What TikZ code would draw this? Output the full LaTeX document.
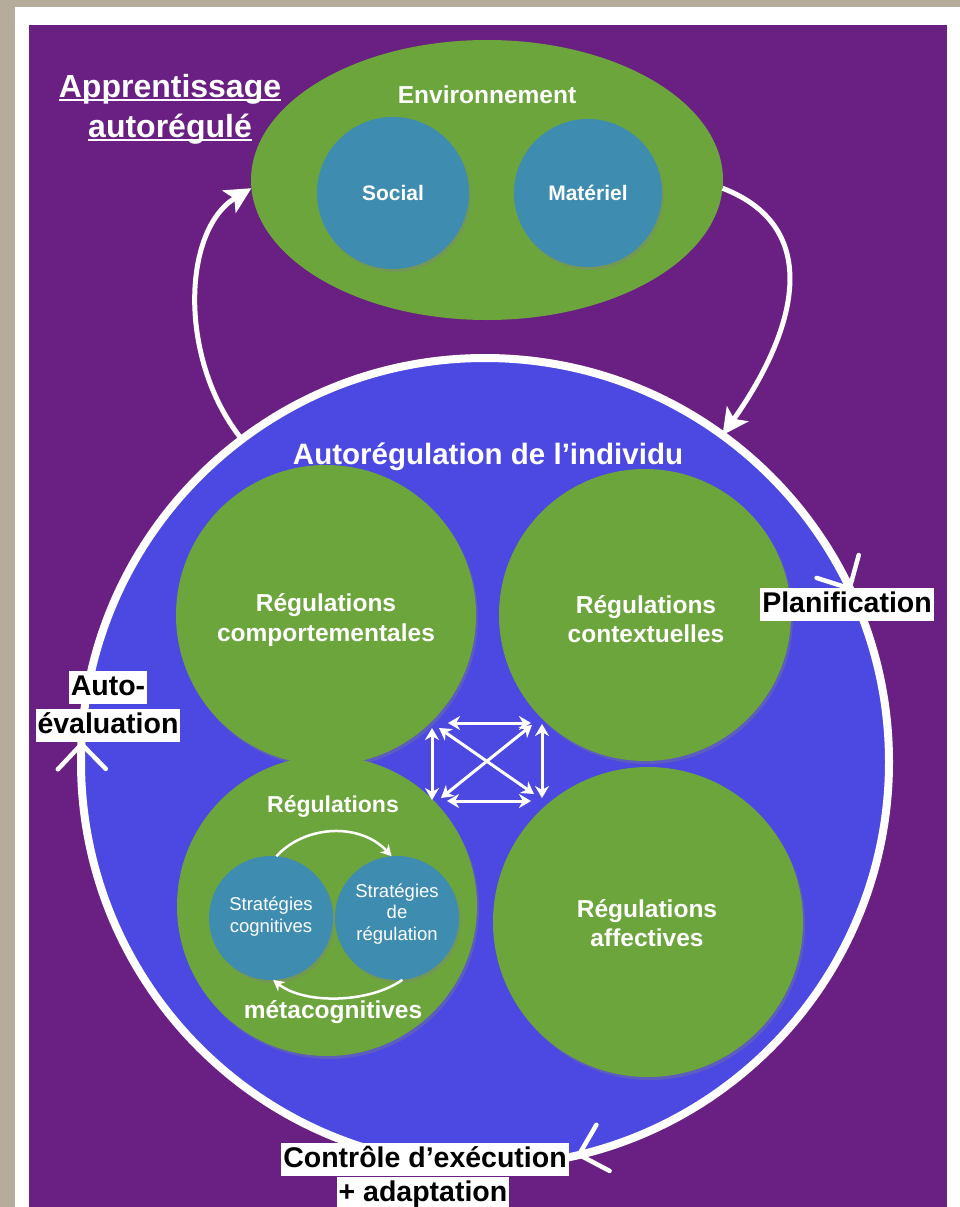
\documentclass[tikz,border=0pt]{standalone}
\usepackage{fontspec}
\setmainfont{Liberation Sans}
\usetikzlibrary{arrows.meta,shapes.geometric,shadows}
\definecolor{beige}{RGB}{182,172,155}
\definecolor{bgpurple}{RGB}{106,31,130}
\definecolor{indblue}{RGB}{75,73,226}
\definecolor{regreen}{RGB}{108,165,60}
\definecolor{teal}{RGB}{62,141,177}
\begin{document}
\begin{tikzpicture}[x=1pt,y=-1pt,
  shd/.style={drop shadow={opacity=0.35,shadow xshift=2pt,shadow yshift=-3pt}},
  gcirc/.style={circle,fill=regreen,inner sep=0pt,outer sep=0pt,shd},
  tcirc/.style={circle,fill=teal,inner sep=0pt,outer sep=0pt,shd},
  wtxt/.style={text=white,anchor=base,inner sep=0pt,font=\bfseries\fontsize{#1}{#1}\selectfont},
  stxt/.style={text=white,anchor=base,inner sep=0pt,font=\fontsize{18.5}{18.5}\selectfont},
  lab/.style={fill=white,text=black,anchor=base,inner xsep=2pt,inner ysep=2pt,
    text height=22pt,text depth=7pt,font=\bfseries\fontsize{28.5}{30}\selectfont},
  bigarrow/.style={white,line width=5pt,-{Stealth[length=26pt,width=26pt,inset=6pt]}},
  duo/.style={white,line width=3pt,{Stealth[length=12pt,width=14pt]}-{Stealth[length=12pt,width=14pt]}},
  thinarrow/.style={white,line width=2.5pt,-{Stealth[length=11pt,width=12pt]}},
  chevron/.style={white,line width=4.5pt,line cap=round,-{Straight Barb[length=25pt,width=48pt,line cap=round]}}
]
\useasboundingbox (0,0) rectangle (960,1207);
\fill[beige] (0,0) rectangle (960,1207);
\fill[white] (15,7) rectangle (960,1207);
\fill[bgpurple] (29,25) rectangle (947,1207);

% environment
\node[ellipse,fill=regreen,minimum width=472pt,minimum height=280pt,inner sep=0pt,outer sep=0pt] (env) at (487,180) {};
\node[tcirc,minimum size=152pt] (soc) at (393,193) {};
\node[tcirc,minimum size=148pt] (mat) at (588,193) {};
\node[wtxt=24.5] (envt) at (487,103) {Environnement};
\node[wtxt=21] (soct) at (393,200) {Social};
\node[wtxt=21] (matt) at (588,200) {Matériel};

% title
\node[wtxt=32] (ap1) at (170,97) {Apprentissage};
\node[wtxt=32] (ap2) at (170,137) {autorégulé};
\draw[white,line width=2pt] ([yshift=-2.5pt]ap1.base west) -- ([yshift=-2.5pt]ap1.base east);
\draw[white,line width=2pt] ([yshift=-2.5pt]ap2.base west) -- ([yshift=-2.5pt]ap2.base east);

% big circle
\node[circle,fill=indblue,draw=white,line width=8pt,minimum size=808pt,inner sep=0pt,outer sep=0pt] (big) at (485,762) {};
\node[wtxt=29.5] (bigt) at (488,464) {Autorégulation de l’individu};

% outer arrows
\draw[bigarrow] (big.127) .. controls (178,360) and (182,230) .. (env.182);
\draw[bigarrow] (env.-2) .. controls (830,230) and (790,340) .. (big.54);

% green circles
\node[gcirc,minimum size=300pt] (comp) at (326,615) {};
\node[gcirc,minimum size=292pt] (cont) at (645,615) {};
\node[gcirc,minimum size=300pt] (meta) at (327,906) {};
\node[gcirc,minimum size=310pt] (aff) at (648,922) {};

\node[wtxt=24.5] (comp1) at (326,611) {Régulations};
\node[wtxt=24.5] (comp2) at (326,641) {comportementales};
\node[wtxt=24.5] (cont1) at (646,613) {Régulations};
\node[wtxt=24.5] (cont2) at (646,642) {contextuelles};
\node[wtxt=24.5] (aff1) at (647,917) {Régulations};
\node[wtxt=24.5] (aff2) at (647,946) {affectives};
\node[wtxt=23] (meta1) at (333,812) {Régulations};
\node[wtxt=24.5] (meta2) at (333,1018) {métacognitives};

% strategies
\node[tcirc,minimum size=124pt] (sc) at (271,918) {};
\node[tcirc,minimum size=124pt] (sr) at (397,918) {};
\node[stxt] (sc1) at (271,910) {Stratégies};
\node[stxt] (sc2) at (271,932) {cognitives};
\node[stxt] (sr1) at (397,897) {Stratégies};
\node[stxt] (sr2) at (397,918) {de};
\node[stxt] (sr3) at (397,940) {régulation};
\draw[thinarrow] (sc.85) .. controls (305,825) and (360,822) .. (sr.95);
\draw[thinarrow] (sr.-85) .. controls (370,1003) and (305,1005) .. (sc.-88);

% cross arrows
\coordinate (h1a) at (448,723); \coordinate (h1b) at (531,723);
\coordinate (h2a) at (447,801); \coordinate (h2b) at (531,801);
\coordinate (v1a) at (432,728); \coordinate (v1b) at (432,800);
\coordinate (v2a) at (542,724); \coordinate (v2b) at (542,798);
\coordinate (d1a) at (439,728); \coordinate (d1b) at (534,794);
\coordinate (d2a) at (441,798); \coordinate (d2b) at (532,725);
\draw[duo] (h1a) -- (h1b);
\draw[duo] (h2a) -- (h2b);
\draw[duo] (v1a) -- (v1b);
\draw[duo] (v2a) -- (v2b);
\draw[duo] (d1a) -- (d1b);
\draw[duo] (d2a) -- (d2b);

% ring chevrons
\draw[chevron] (big.32) -- (big.25.5);
\draw[chevron] (big.-71) -- (big.-77.5);
\draw[chevron] (big.184) -- (big.177.5);

% labels
\node[lab] (plan) at (847,612) {Planification};
\node[lab] (ae1) at (108,695) {Auto-};
\node[lab] (ae2) at (108,733) {évaluation};
\node[lab] (ce1) at (425,1167) {Contrôle d’exécution};
\node[lab] (ce2) at (423,1201) {+ adaptation};
\end{tikzpicture}
\end{document}
